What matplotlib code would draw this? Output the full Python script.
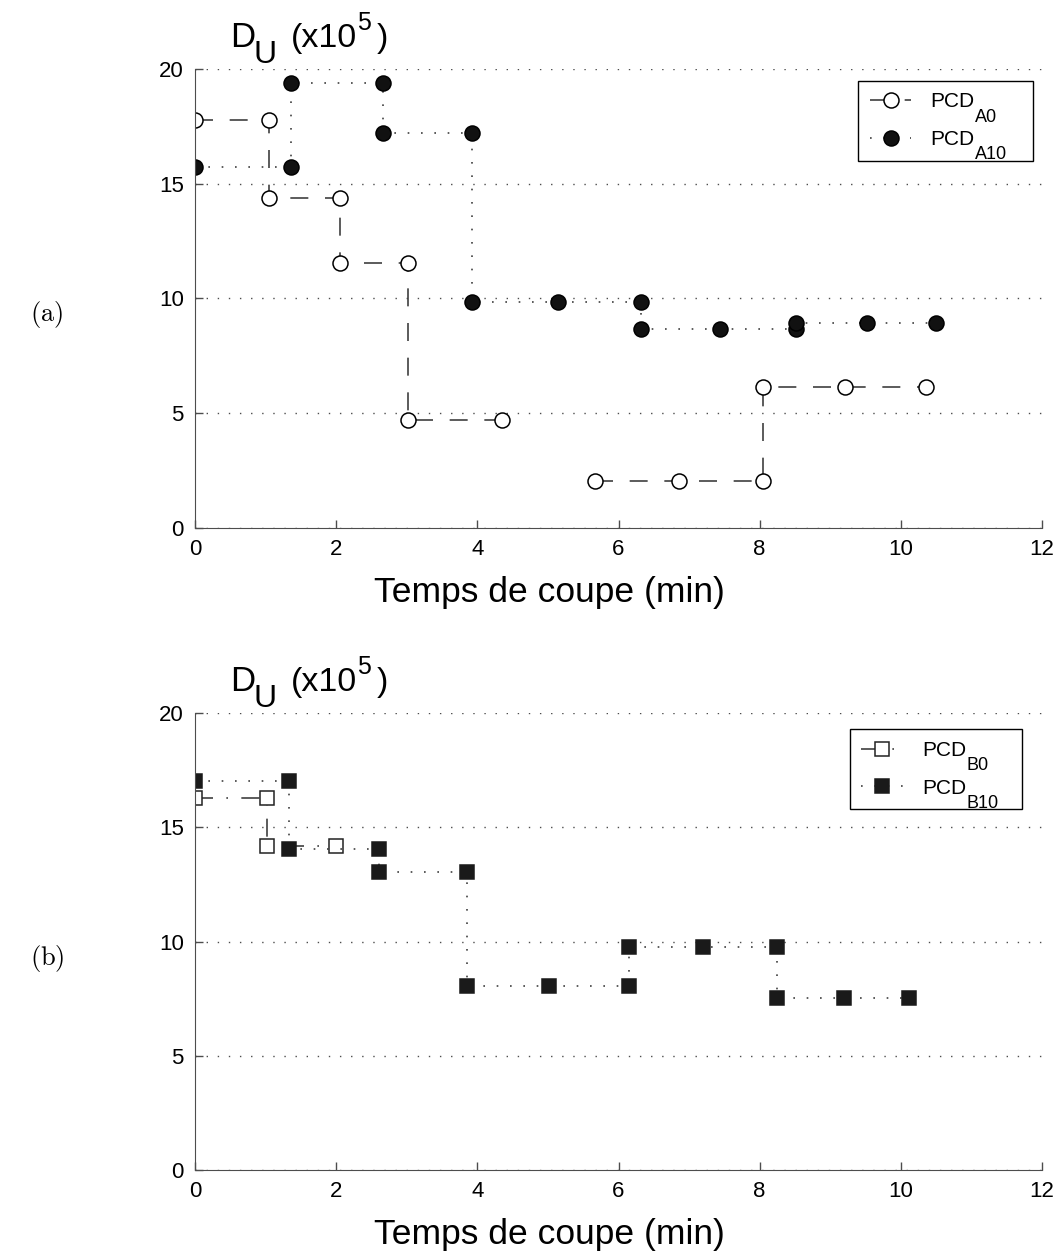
import numpy as np
import matplotlib
matplotlib.use('Agg')
import matplotlib.pyplot as plt

#------------------------------------------------------------------------------
# Data (NaN = break in the line)
#------------------------------------------------------------------------------

# (a)
a0_t = [0, 1.05, 1.05, 2.05, 2.05, 3.02, 3.02, 4.35, np.nan, 5.66, 6.86, 8.05, 8.05, 9.21, 10.35]
a0_d = [17.76, 17.76, 14.37, 14.37, 11.55, 11.55, 4.69, 4.69, np.nan, 2.05, 2.05, 2.05, 6.15, 6.15, 6.15]

a10_t = [0, 1.36, 1.36, 2.66, 2.66, 3.93, 3.93, 5.14, 6.32, 6.32, 7.44, 8.51, 8.51, 9.52, 10.50]
a10_d = [15.71, 15.71, 19.39, 19.39, 17.20, 17.20, 9.84, 9.84, 9.84, 8.65, 8.65, 8.65, 8.90, 8.90, 8.90]

# (b)
b0_t = [0, 1.02, 1.02, 2.00]
b0_d = [16.28, 16.28, 14.17, 14.17]

b10_t = [0, 1.33, 1.33, 2.61, 2.61, 3.85, 3.85, 5.01, 6.15, 6.15, 7.20, 8.24, 8.24, 9.19, 10.11]
b10_d = [17.01, 17.01, 14.07, 14.07, 13.03, 13.03, 8.04, 8.04, 8.04, 9.74, 9.74, 9.74, 7.54, 7.54, 7.54]

x_ticks = [0, 2, 4, 6, 8, 10, 12]
y_ticks = [0, 5, 10, 15, 20]

subs_a = ['A0', 'A10']
subs_b = ['B0', 'B10']

#------------------------------------------------------------------------------
# Figure
#------------------------------------------------------------------------------

plt.rcParams['font.family'] = ['Liberation Sans', 'DejaVu Sans']

W, H = 1062, 1260
fig = plt.figure(figsize=(W / 100, H / 100), dpi=100)
ax_a = fig.add_axes([0.1836, 0.5813, 0.7976, 0.3640])
ax_b = fig.add_axes([0.1836, 0.0714, 0.7976, 0.3627])

line_col = '0.25'
dotted = (0, (1, 7))
dashed = (0, (10.8, 10))
dashdot = (0, (10.8, 8, 1, 8))

ax_a.plot(a0_t, a0_d, linestyle=dashed, color=line_col, lw=1.2, marker='o', ms=10.8,
          mfc='white', mec='black', mew=1.1, label='PCD')
ax_a.plot(a10_t, a10_d, linestyle=dotted, color=line_col, lw=1.2, marker='o', ms=10.8,
          mfc='#111111', mec='black', mew=1.1, label='PCD')

ax_b.plot(b0_t, b0_d, linestyle=dashdot, color=line_col, lw=1.2, marker='s', ms=9.5,
          mfc='white', mec='#222222', mew=1.1, label='PCD')
ax_b.plot(b10_t, b10_d, linestyle=dotted, color=line_col, lw=1.2, marker='s', ms=9.5,
          mfc='#1a1a1a', mec='#1a1a1a', mew=1.1, label='PCD')


def label_piece(ax, dx, dy, s, size):
    # dx, dy in pixels from the axes top-left corner (dy upwards)
    h = ax.get_position().height * H
    w = ax.get_position().width * W
    ax.text(dx / w, 1 + dy / h, s, transform=ax.transAxes, fontsize=size,
            ha='left', va='baseline', clip_on=False)


panels = [(ax_a, '(a)', 315, (0.7830, 0.5, 0.2060, 0.4740), subs_a),
          (ax_b, '(b)', 958, (0.7733, 0.5, 0.2030, 0.4640), subs_b)]

for ax, tag, tag_y, leg_box, subs in panels:
    ax.set_xlim(0, 12)
    ax.set_ylim(0, 20)
    ax.set_xticks(x_ticks)
    ax.set_yticks(y_ticks)
    ax.spines['top'].set_visible(False)
    ax.spines['right'].set_visible(False)
    ax.spines['left'].set_color('0.3')
    ax.spines['bottom'].set_color('0.3')
    ax.tick_params(direction='in', length=6, width=1, color='0.3', labelsize=16)
    ax.tick_params(axis='x', pad=8)
    ax.tick_params(axis='y', pad=8)
    ax.yaxis.grid(True, linestyle=dotted, color='0.3', lw=1)
    ax.set_axisbelow(True)

    ax.set_xlabel('Temps de coupe (min)', fontsize=25.5)
    ax.xaxis.set_label_coords(0.418, -0.105)

    # D_U (x10^5) built from pieces so the subscript keeps its large size
    label_piece(ax, 35, 22, 'D', 25)
    label_piece(ax, 59, 5.7, 'U', 23)
    label_piece(ax, 95.5, 22, '(x10', 24.5)
    label_piece(ax, 162, 39, '5', 18)
    label_piece(ax, 181.5, 22, ')', 24.5)

    leg = ax.legend(loc='upper right', bbox_to_anchor=leg_box, mode='expand',
                    borderaxespad=0, fontsize=15, fancybox=False, framealpha=1,
                    edgecolor='black', handlelength=2.0, handletextpad=0.9,
                    borderpad=0.55, labelspacing=0.9)
    leg.get_frame().set_linewidth(1.0)
    for txt, sub in zip(leg.get_texts(), subs):
        ax.annotate(sub, xy=(1, 0), xycoords=txt, xytext=(0.5, -7.5),
                    textcoords='offset points', fontsize=13, ha='left',
                    va='baseline', zorder=10, annotation_clip=False)

    fig.text(47 / W, 1 - tag_y / H, r'$\mathrm{' + tag + '}$', math_fontfamily='cm',
             fontsize=19, ha='center', va='center')

fig.savefig('out.png', dpi=100)
